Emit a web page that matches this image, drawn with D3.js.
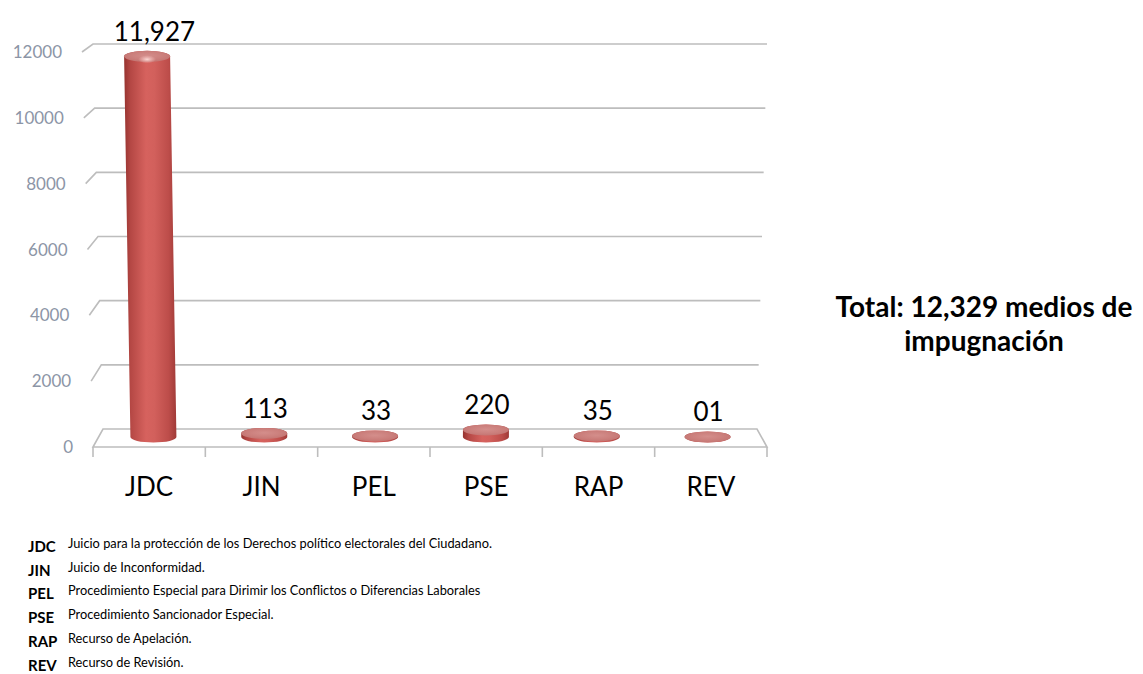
<!DOCTYPE html>
<html>
<head>
<meta charset="utf-8">
<script src="https://cdn.jsdelivr.net/npm/d3@7"></script>
<style>
  html, body { margin: 0; padding: 0; background: #ffffff; }
  svg { display: block; }
</style>
</head>
<body>
<svg id="chart" width="1143" height="674"></svg>
<script>
// ---------- data ----------
const categories = ["JDC", "JIN", "PEL", "PSE", "RAP", "REV"];
const values = [11927, 113, 33, 220, 35, 1];
const valueLabels = ["11,927", "113", "33", "220", "35", "01"];
const yTicks = [0, 2000, 4000, 6000, 8000, 10000, 12000];
const legendCodes = ["JDC", "JIN", "PEL", "PSE", "RAP", "REV"];
const legendTexts = [
  "Juicio para la protección de los Derechos político electorales del Ciudadano.",
  "Juicio de Inconformidad.",
  "Procedimiento Especial para Dirimir los Conflictos o Diferencias Laborales",
  "Procedimiento Sancionador Especial.",
  "Recurso de Apelación.",
  "Recurso de Revisión."
];
const totalLines = ["Total: 12,329 medios de", "impugnación"];

// ---------- layout ----------
const svg = d3.select("#chart");
const FONT = "Lato, 'Open Sans', sans-serif";

// 3D-ish wall geometry (perspective)
const yBack = d3.scaleLinear().domain([0, 12000]).range([429, 44]);
const yFront = d3.scaleLinear().domain([0, 12000]).range([447, 52]);
const xBackL = d3.scaleLinear().domain([0, 12000]).range([103, 93]);
const xFrontL = d3.scaleLinear().domain([0, 12000]).range([93, 82]);
const xBackR = d3.scaleLinear().domain([0, 12000]).range([757, 767]);

// bars plane
const xFloor = d3.scaleBand().domain(categories).range([98, 763]);
const xFront = d3.scaleBand().domain(categories).range([93, 767]);
const yBar = d3.scaleLinear().domain([0, 12000]).range([437, 54]);

const gridColor = "#bdbdbd";

// defs
const defs = svg.append("defs");
const bodyGrad = defs.append("linearGradient").attr("id", "bodyGrad")
  .attr("x1", "0%").attr("x2", "100%").attr("y1", "0%").attr("y2", "0%");
[[0, "#96332f"], [0.12, "#b44744"], [0.42, "#d6625e"], [0.58, "#d2605c"], [0.85, "#bd4d4a"], [1, "#a03a37"]]
  .forEach(([o, c]) => bodyGrad.append("stop").attr("offset", o).attr("stop-color", c));
const capGrad = defs.append("radialGradient").attr("id", "capGrad")
  .attr("cx", "50%").attr("cy", "45%").attr("r", "60%");
[[0, "#d48e8b"], [0.6, "#cb7f7c"], [1, "#c27370"]]
  .forEach(([o, c]) => capGrad.append("stop").attr("offset", o).attr("stop-color", c));
const domeGrad = defs.append("radialGradient").attr("id", "domeGrad")
  .attr("cx", "50%").attr("cy", "50%").attr("r", "50%");
[[0, "rgba(255,225,220,0.9)"], [1, "rgba(255,200,200,0)"]]
  .forEach(([o, c]) => domeGrad.append("stop").attr("offset", o).attr("stop-color", c));

// ---------- gridlines ----------
const grid = svg.append("g");
yTicks.forEach(v => {
  if (v === 0) return;
  grid.append("path")
    .attr("d", `M${xFrontL(v)},${yFront(v)}L${xBackL(v)},${yBack(v)}L${xBackR(v)},${yBack(v)}`)
    .attr("fill", "none").attr("stroke", gridColor).attr("stroke-width", 1.6);
});
// floor
const v0 = 0;
grid.append("path")
  .attr("d", `M${xFront.range()[0]},${yFront(v0)}L${xBackL(v0)},${yBack(v0)}L${xBackR(v0)},${yBack(v0)}L${xFront.range()[1]},${yFront(v0)}Z`)
  .attr("fill", "none").attr("stroke", gridColor).attr("stroke-width", 1.6);
// ticks on front edge
const tickXs = categories.map(c => xFront(c)).concat([xFront.range()[1]]);
grid.selectAll("line.tick").data(tickXs).enter().append("line")
  .attr("x1", d => d).attr("x2", d => d)
  .attr("y1", yFront(0)).attr("y2", yFront(0) + 10)
  .attr("stroke", gridColor).attr("stroke-width", 1.6);

// y labels
svg.append("g").selectAll("text").data(yTicks).enter().append("text")
  .attr("x", d => xFrontL(d) - 20)
  .attr("y", d => yFront(d))
  .attr("dy", "0.36em")
  .attr("text-anchor", "end")
  .attr("font-family", FONT)
  .attr("font-size", 17)
  .attr("fill", "#8c95a6")
  .text(d => d);

// category labels
svg.append("g").selectAll("text").data(categories).enter().append("text")
  .attr("x", d => xFront(d) + xFront.bandwidth() / 2)
  .attr("y", 496)
  .attr("text-anchor", "middle")
  .attr("font-family", FONT)
  .attr("font-size", 26)
  .attr("fill", "#000")
  .text(d => d);

// ---------- bars (cylinders) ----------
const r = 23, ry = 5.5;
const bars = svg.append("g");
categories.forEach((c, i) => {
  const v = values[i];
  const cxB = xFloor(c) + xFloor.bandwidth() / 2;
  const yB = yBar(0);
  const yT = yBar(v);
  const lean = (430 - cxB) * (yB - yT) * 6e-5;
  const cxT = cxB - lean;
  const d = `M${cxT - r},${yT}` +
    `L${cxB - r},${yB}` +
    `A${r},${ry} 0 0 0 ${cxB + r},${yB}` +
    `L${cxT + r},${yT}` +
    `A${r},${ry} 0 0 0 ${cxT - r},${yT}Z`;
  bars.append("path").attr("d", d).attr("fill", "url(#bodyGrad)");
  bars.append("ellipse")
    .attr("cx", cxT).attr("cy", yT).attr("rx", r).attr("ry", ry)
    .attr("fill", "url(#capGrad)");
  if (yB - yT > 40) {
    bars.append("ellipse")
      .attr("cx", cxT).attr("cy", yT + 3).attr("rx", 9).attr("ry", 4)
      .attr("fill", "url(#domeGrad)");
  }
  svg.append("text")
    .attr("x", cxB + 1)
    .attr("y", yT - ry - 10)
    .attr("text-anchor", "middle")
    .attr("font-family", FONT)
    .attr("font-size", 26)
    .attr("fill", "#000")
    .text(valueLabels[i]);
});

// ---------- total text ----------
svg.append("g").selectAll("text").data(totalLines).enter().append("text")
  .attr("x", 984)
  .attr("y", (d, i) => 317 + i * 34)
  .attr("text-anchor", "middle")
  .attr("font-family", FONT)
  .attr("font-weight", "bold")
  .attr("font-size", 28)
  .attr("fill", "#000")
  .text(d => d);

// ---------- legend ----------
const leg = svg.append("g");
legendCodes.forEach((code, i) => {
  const y = 552 + i * 23.7;
  leg.append("text")
    .attr("x", 28).attr("y", y)
    .attr("font-family", FONT).attr("font-weight", "bold").attr("font-size", 15)
    .attr("fill", "#000").text(code);
  leg.append("text")
    .attr("x", 68).attr("y", y - 4)
    .attr("font-family", FONT).attr("font-size", 12.8)
    .attr("fill", "#000").text(legendTexts[i]);
});
</script>
</body>
</html>
